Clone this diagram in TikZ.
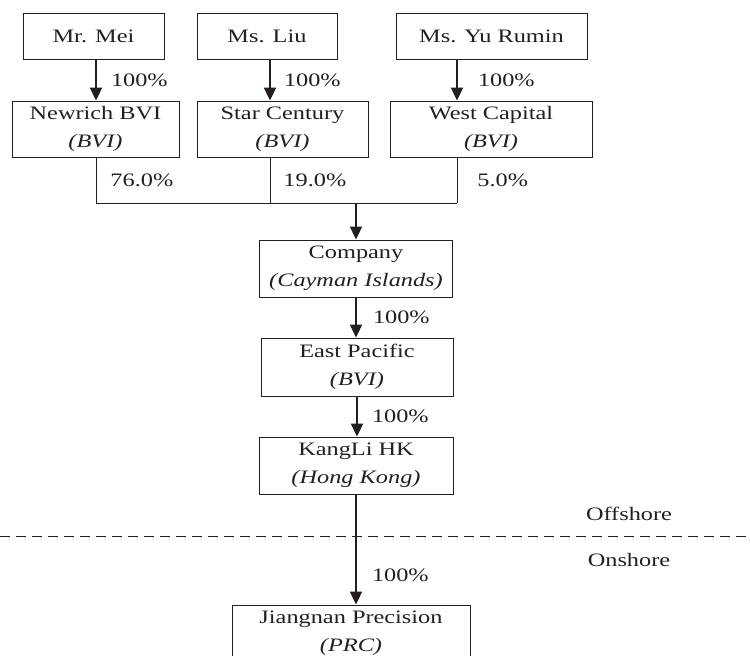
\documentclass[tikz,border=0pt]{standalone}
\usepackage{fontspec}
\setmainfont{Liberation Serif}[FakeStretch=1.28]
\usetikzlibrary{arrows.meta,positioning}
\definecolor{ink}{RGB}{35,31,32}

\begin{document}
\begin{tikzpicture}[x=1pt,y=-1pt,color=ink,
box/.style={draw,line width=0.9pt,align=center,inner sep=0pt,font=\fontsize{19}{28}\selectfont},
own/.style={-{Triangle[length=13pt,width=12pt]},line width=2pt},
link/.style={line width=0.9pt},
pct/.style={right,inner sep=0pt,font=\fontsize{19}{22}\selectfont},
shore/.style={line width=0.8pt,dash pattern=on 10pt off 6pt}]
\clip (0,0) rectangle (750,656);
% owners
\node[box,minimum width=141pt,minimum height=46pt] (mei) at (93.5,36) {Mr. Mei};
\node[box,minimum width=140pt,minimum height=46pt] (liu) at (267,36) {Ms. Liu};
\node[box,minimum width=191pt,minimum height=46pt] (yu) at (491.5,36) {Ms. Yu Rumin};
% BVI holding companies
\node[box,minimum width=167pt,minimum height=56pt] (newrich) at (95.5,129) {Newrich BVI\\\textit{(BVI)}};
\node[box,minimum width=171pt,minimum height=56pt] (star) at (282.5,129) {Star Century\\\textit{(BVI)}};
\node[box,minimum width=202pt,minimum height=56pt] (west) at (491,129) {West Capital\\\textit{(BVI)}};
% group chain
\node[box,minimum width=193pt,minimum height=57pt] (company) at (356,268.5) {Company\\\textit{(Cayman Islands)}};
\node[box,minimum width=192pt,minimum height=58pt] (east) at (357,367) {East Pacific\\\textit{(BVI)}};
\node[box,minimum width=194pt,minimum height=57pt] (kangli) at (356,465.5) {KangLi HK\\\textit{(Hong Kong)}};
\node[box,minimum width=238pt,minimum height=56pt] (jiangnan) at (351,633) {Jiangnan Precision\\\textit{(PRC)}};
\coordinate (bus) at (356,203);
\coordinate (shoreW) at (0,536);
\coordinate (shoreE) at (750,536);
\node[font=\fontsize{19}{22}\selectfont] (offshore) at (629,514) {Offshore};
\node[font=\fontsize{19}{22}\selectfont] (onshore) at (629,560) {Onshore};

\draw[own] ([xshift=2.5pt]mei.south) -- ([xshift=2.5pt]mei.south |- newrich.north) node[pct,midway,xshift=14pt] {100\%};
\draw[own] ([xshift=3pt]liu.south) -- ([xshift=3pt]liu.south |- star.north) node[pct,midway,xshift=13pt] {100\%};
\draw[own] ([xshift=-34.5pt]yu.south) -- ([xshift=-34.5pt]yu.south |- west.north) node[pct,midway,xshift=20pt] {100\%};

\draw[link] ([xshift=0.5pt]newrich.south) -- ([xshift=0.5pt]newrich.south |- bus) node[pct,midway,xshift=14pt] {76.0\%};
\draw[link] ([xshift=-12.5pt]star.south) -- ([xshift=-12.5pt]star.south |- bus) node[pct,midway,xshift=13pt] {19.0\%};
\draw[link] ([xshift=-34pt]west.south) -- ([xshift=-34pt]west.south |- bus) node[pct,midway,xshift=20pt] {5.0\%};
\draw[link] ([xshift=0.5pt]newrich.south |- bus) -- ([xshift=-34pt]west.south |- bus);
\draw[own] (bus) -- (bus |- company.north);

\draw[own] (company.south) -- (company.south |- east.north) node[pct,midway,xshift=16pt] {100\%};
\draw[own] (east.south) -- (east.south |- kangli.north) node[pct,midway,xshift=14pt] {100\%};
\draw[own] (kangli.south) -- (kangli.south |- jiangnan.north) node[pct,pos=0.73,xshift=15pt] {100\%};

\draw[shore] (shoreW) -- (shoreE);
\end{tikzpicture}
\end{document}
